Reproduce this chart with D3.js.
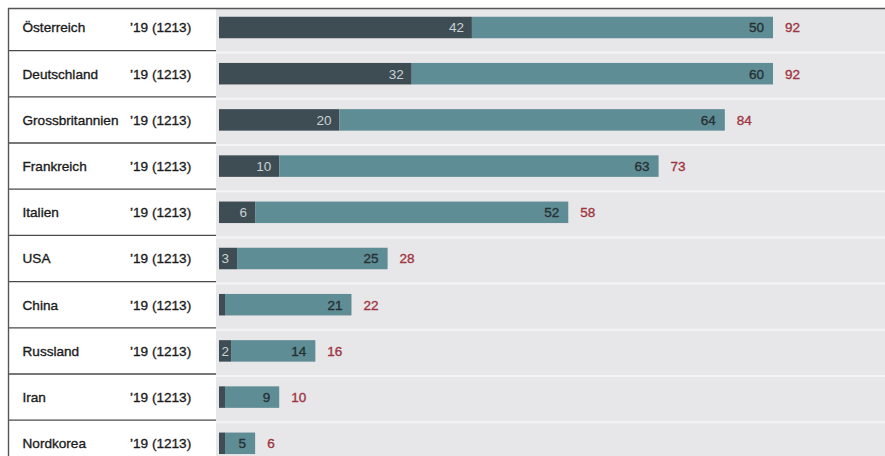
<!DOCTYPE html>
<html>
<head>
<meta charset="utf-8">
<script src="https://cdn.jsdelivr.net/npm/d3@7"></script>
<style>
  body { margin: 0; background: #fff; }
  svg text { font-family: "Liberation Sans", Arial, sans-serif; stroke-width: 0.35px; }
</style>
</head>
<body>
<div id="chart"></div>
<script>
// data
const countries = ["Österreich", "Deutschland", "Grossbritannien", "Frankreich", "Italien",
                   "USA", "China", "Russland", "Iran", "Nordkorea"];
const yearLabels = ["’19 (1213)", "’19 (1213)", "’19 (1213)", "’19 (1213)", "’19 (1213)",
                    "’19 (1213)", "’19 (1213)", "’19 (1213)", "’19 (1213)", "’19 (1213)"];
const darkValues = [42, 32, 20, 10, 6, 3, 1, 2, 1, 1];
const lightValues = [50, 60, 64, 63, 52, 25, 21, 14, 9, 5];
const totals = [92, 92, 84, 73, 58, 28, 22, 16, 10, 6];

const width = 885, height = 456;
const panelRight = 216;

let rows = countries.map((c, i) => ({
    country: c,
    year: yearLabels[i],
    dark: darkValues[i],
    light: lightValues[i],
    total: totals[i]
}));

let svg = d3.select("#chart").append("svg")
    .attr("width", width)
    .attr("height", height);

// paper background on the right
svg.append("rect")
    .attr("x", panelRight).attr("y", 9)
    .attr("width", width - panelRight).attr("height", height - 9)
    .attr("fill", "#e7e6e9");

let y = d3.scaleBand()
    .domain(countries)
    .range([4.4, 4.4 + 46.2 * countries.length])
    .paddingInner(0);

let x = d3.scaleLinear()
    .domain([0, d3.max(totals)])
    .range([219, 773]);

let barH = 21.5;

// light lines in the paper between rows
svg.selectAll(".paperline")
    .data(countries.slice(1))
    .enter().append("line")
    .attr("x1", panelRight).attr("x2", width)
    .attr("y1", d => y(d) + 2).attr("y2", d => y(d) + 2)
    .attr("stroke", "#f4f4f5").attr("stroke-width", 2);

// separators in the left panel
svg.selectAll(".sep")
    .data(countries.slice(1))
    .enter().append("line")
    .attr("x1", 8).attr("x2", panelRight)
    .attr("y1", d => y(d)).attr("y2", d => y(d))
    .attr("stroke", "#4a4a4a").attr("stroke-width", 1.3);

// frame
svg.append("line")
    .attr("x1", 8).attr("x2", width).attr("y1", 8.5).attr("y2", 8.5)
    .attr("stroke", "#555").attr("stroke-width", 1.6);
svg.append("line")
    .attr("x1", 8.5).attr("x2", 8.5).attr("y1", 8).attr("y2", height)
    .attr("stroke", "#555").attr("stroke-width", 1.4);

let stack = d3.stack().keys(["dark", "light"]);
let stacked = stack(rows);
let colors = { dark: "#3e4d53", light: "#5f8d95" };

let layers = svg.selectAll(".layer")
    .data(stacked)
    .enter().append("g")
    .attr("class", "layer")
    .attr("fill", d => colors[d.key]);

layers.selectAll("rect")
    .data(d => d)
    .enter().append("rect")
    .attr("x", d => x(d[0]))
    .attr("y", d => y(d.data.country) + (y.bandwidth() - barH) / 2)
    .attr("width", d => x(d[1]) - x(d[0]))
    .attr("height", barH);

let cy = d => y(d.country) + y.bandwidth() / 2;

// left labels
svg.selectAll(".name")
    .data(rows)
    .enter().append("text")
    .attr("x", 22.5).attr("y", cy).attr("dy", "0.36em")
    .attr("font-size", "13.6px").attr("fill", "#1c1c1c").attr("stroke", "#1c1c1c")
    .text(d => d.country);

svg.selectAll(".year")
    .data(rows)
    .enter().append("text")
    .attr("x", 130).attr("y", cy).attr("dy", "0.36em")
    .attr("font-size", "13.6px").attr("fill", "#1c1c1c").attr("stroke", "#1c1c1c")
    .text(d => d.year);

// value labels
svg.selectAll(".darklab")
    .data(rows.filter(d => d.dark >= 2))
    .enter().append("text")
    .attr("x", d => Math.max(x(d.dark) - 8, x(0) + 10))
    .attr("y", cy).attr("dy", "0.36em")
    .attr("text-anchor", "end")
    .attr("font-size", "13.5px").attr("fill", "#c9d1d3")
    .text(d => d.dark);

svg.selectAll(".lightlab")
    .data(rows)
    .enter().append("text")
    .attr("x", d => x(d.dark + d.light) - 9)
    .attr("y", cy).attr("dy", "0.36em")
    .attr("text-anchor", "end")
    .attr("font-size", "13.5px").attr("fill", "#263033").attr("stroke", "#263033")
    .text(d => d.light);

svg.selectAll(".totallab")
    .data(rows)
    .enter().append("text")
    .attr("x", d => x(d.total) + 12)
    .attr("y", cy).attr("dy", "0.36em")
    .attr("font-size", "13.5px").attr("fill", "#9e3540").attr("stroke", "#9e3540")
    .attr("stroke-width", "0.6px")
    .text(d => d.total);
</script>
</body>
</html>
